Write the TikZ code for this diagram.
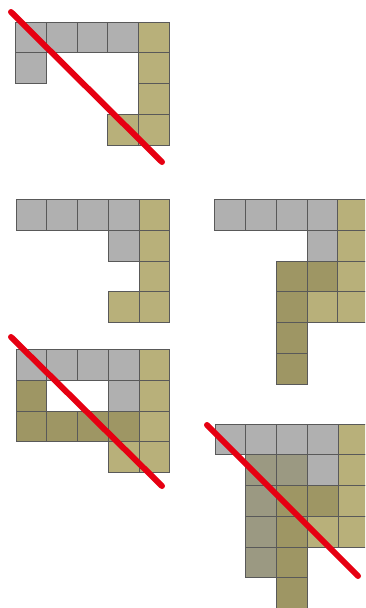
\documentclass[tikz,border=0pt]{standalone}
\usepackage{xcolor}
\usepackage{tikz}
\definecolor{cellgray}{RGB}{176,176,176}
\definecolor{olivelt}{RGB}{184,176,122}
\definecolor{olivedk}{RGB}{158,150,100}
\definecolor{olivegr}{RGB}{155,153,130}
\definecolor{cutred}{RGB}{230,0,18}
\def\cellsz{30.75}

\begin{document}
\begin{tikzpicture}[x=1pt, y=-1pt,
    cell/.style={draw=black!65, line width=0.8pt},
    cut/.style={cutred, line width=6pt, line cap=round}]
		\useasboundingbox (0,0) rectangle (365,608);
		\clip (0,0) rectangle (365,608);
		% top left, crossed
		\begin{scope}[shift={(15.5,22)}]
			\foreach \c/\r/\k in {0/0/cellgray,1/0/cellgray,2/0/cellgray,3/0/cellgray,4/0/olivelt,
				0/1/cellgray,4/1/olivelt,4/2/olivelt,3/3/olivelt,4/3/olivelt}
				\filldraw[cell, fill=\k] (\c*\cellsz,\r*\cellsz) rectangle ++(\cellsz,\cellsz);
		\end{scope}
		\coordinate (a1) at (11,12);
		\coordinate (a2) at (162,162);
		\draw[cut] (a1) -- (a2);
		% middle left
		\begin{scope}[shift={(16,199.5)}]
			\foreach \c/\r/\k in {0/0/cellgray,1/0/cellgray,2/0/cellgray,3/0/cellgray,4/0/olivelt,
				3/1/cellgray,4/1/olivelt,4/2/olivelt,3/3/olivelt,4/3/olivelt}
				\filldraw[cell, fill=\k] (\c*\cellsz,\r*\cellsz) rectangle ++(\cellsz,\cellsz);
		\end{scope}
		% middle right
		\begin{scope}[shift={(214.7,199.5)}]
			\foreach \c/\r/\k in {0/0/cellgray,1/0/cellgray,2/0/cellgray,3/0/cellgray,4/0/olivelt,
				3/1/cellgray,4/1/olivelt,
				2/2/olivedk,3/2/olivedk,4/2/olivelt,
				2/3/olivedk,3/3/olivelt,4/3/olivelt,
				2/4/olivedk,2/5/olivedk}
				\filldraw[cell, fill=\k] (\c*\cellsz,\r*\cellsz) rectangle ++(\cellsz,\cellsz);
		\end{scope}
		% bottom left, crossed
		\begin{scope}[shift={(16,349.5)}]
			\foreach \c/\r/\k in {0/0/cellgray,1/0/cellgray,2/0/cellgray,3/0/cellgray,4/0/olivelt,
				0/1/olivedk,3/1/cellgray,4/1/olivelt,
				0/2/olivedk,1/2/olivedk,2/2/olivedk,3/2/olivedk,4/2/olivelt,
				3/3/olivelt,4/3/olivelt}
				\filldraw[cell, fill=\k] (\c*\cellsz,\r*\cellsz) rectangle ++(\cellsz,\cellsz);
		\end{scope}
		\coordinate (d1) at (11,337);
		\coordinate (d2) at (162,486);
		\draw[cut] (d1) -- (d2);
		% bottom right, crossed
		\begin{scope}[shift={(215,424)}]
			\foreach \c/\r/\k in {0/0/cellgray,1/0/cellgray,2/0/cellgray,3/0/cellgray,4/0/olivelt,
				1/1/olivegr,2/1/olivegr,3/1/cellgray,4/1/olivelt,
				1/2/olivegr,2/2/olivedk,3/2/olivedk,4/2/olivelt,
				1/3/olivegr,2/3/olivedk,3/3/olivelt,4/3/olivelt,
				1/4/olivegr,2/4/olivedk,2/5/olivedk}
				\filldraw[cell, fill=\k] (\c*\cellsz,\r*\cellsz) rectangle ++(\cellsz,\cellsz);
		\end{scope}
		\coordinate (e1) at (207,425);
		\coordinate (e2) at (358,576);
		\draw[cut] (e1) -- (e2);
	\end{tikzpicture}
\end{document}
